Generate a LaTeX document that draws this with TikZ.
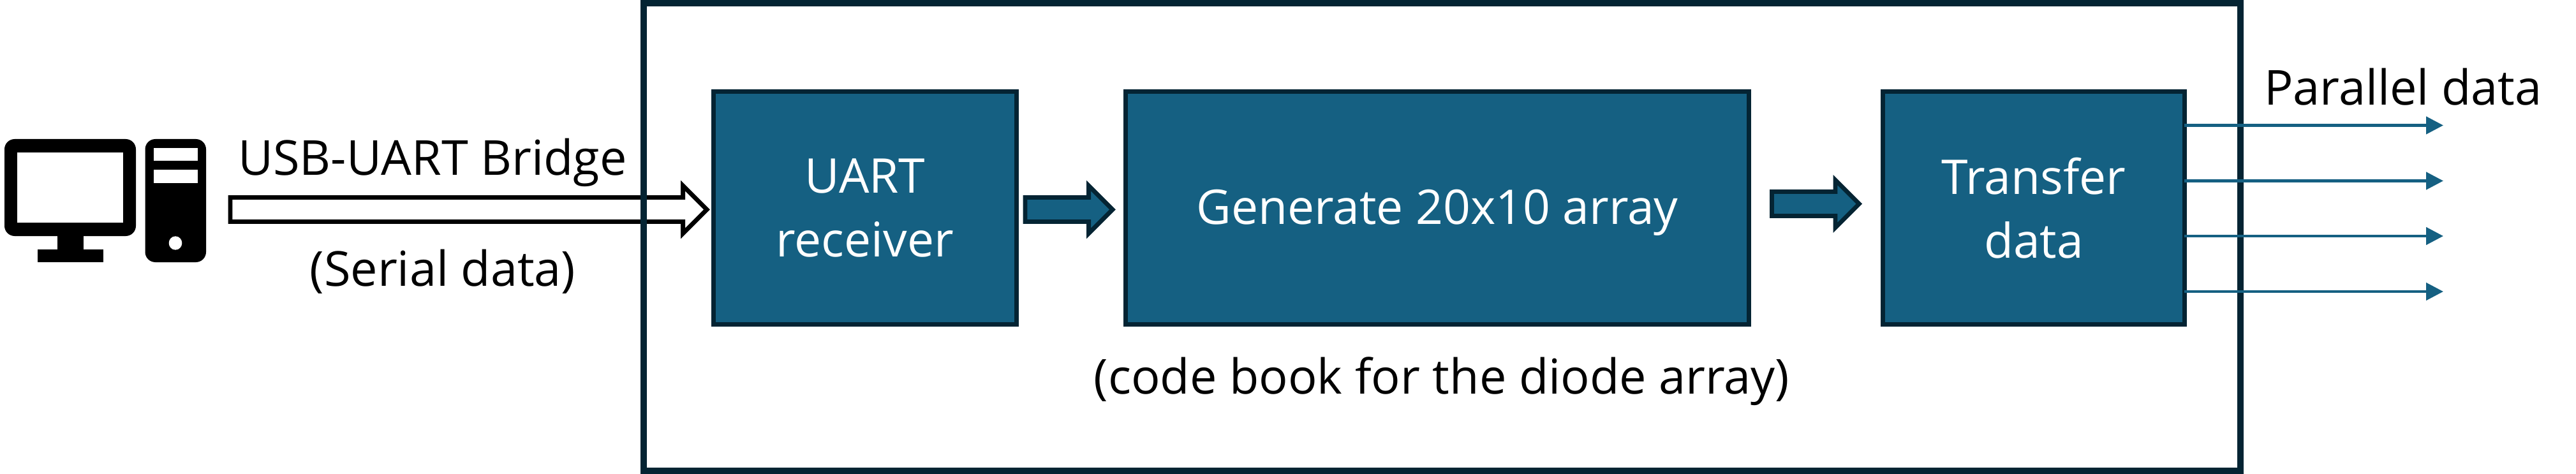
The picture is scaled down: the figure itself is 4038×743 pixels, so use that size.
\documentclass[tikz,border=0pt]{standalone}
\usepackage{fontspec}
\setmainfont{Open Sans}
\usetikzlibrary{calc,arrows.meta}
\definecolor{blockfill}{HTML}{156082}
\definecolor{blockedge}{HTML}{042433}
\tikzset{
  codeblock/.style={draw=blockedge,fill=blockfill,line width=3.5pt,text=white,align=center,
    inner sep=0pt,font=\fontsize{37.5}{50}\selectfont},
  caption/.style={anchor=base,inner sep=0pt,font=\fontsize{37.8}{44}\selectfont},
  % hollow arrow drawn between two points
  blockarrow/.style={line width=3.4pt,miter limit=10,to path={
    let \p1=(\tikztostart),\p2=(\tikztotarget) in
    (\x1,\y1+9.5) -- (\x2-18.7,\y1+9.5) -- (\x2-18.7,\y1+18.7) -- (\x2,\y1)
    -- (\x2-18.7,\y1-18.7) -- (\x2-18.7,\y1-9.5) -- (\x1,\y1-9.5) -- cycle}},
  outline/.style={-{Triangle[length=13.5pt,width=13.5pt]},draw=blockfill,line width=2.4pt}
}
\begin{document}
\begin{tikzpicture}[x=0.5pt,y=-0.5pt]
\useasboundingbox (0,0) rectangle (4038,743);
% The computer:
\fill[rounded corners=8pt] (7,218) rectangle (213,370);
\fill[white] (27,239) rectangle (193,349);
\fill (89.5,360) rectangle (130.5,391);
\fill (58.5,391) rectangle (161.5,411);
\fill[rounded corners=8pt] (227.5,218) rectangle (323,411);
\fill[white] (240.5,232) rectangle (309.5,252.5);
\fill[white] (240.5,266.5) rectangle (309.5,287.5);
\fill[white] (275,381) circle [x radius=10.3,y radius=10.7];
% Some points for the arrows:
\coordinate (serial start) at (361,328.5);
\coordinate (serial end) at (1108,328.5);
\coordinate (first start) at (1607,328.5);
\coordinate (first end) at (1744,328.5);
\coordinate (second start) at (2777.5,319.5);
\coordinate (second end) at (2914.3,319.5);
\draw[blockarrow,draw=black,fill=white] (serial start) to (serial end);
\node[draw=blockedge,line width=5pt,minimum width=1251.5pt,minimum height=366.5pt,inner sep=0pt] (board) at (2260.5,371.5) {};
\node[codeblock,minimum width=237.25pt,minimum height=182.5pt] (uart) at (1355.75,326) {UART\\receiver};
\node[codeblock,minimum width=488.3pt,minimum height=182.5pt,text depth=2pt] (generate) at (2253.2,326) {Generate 20x10 array};
\node[codeblock,minimum width=236.5pt,minimum height=182.5pt] (transfer) at (3188,326) {Transfer\\data};
\draw[blockarrow,draw=blockedge,fill=blockfill] (first start) to (first end);
\draw[blockarrow,draw=blockedge,fill=blockfill] (second start) to (second end);
% The parallel outputs:
\foreach \bit/\y in {1/196.5,2/283.5,3/370,4/457}
{
\coordinate (out \bit) at (3830,\y);
\draw[outline] (3424,\y) -- (out \bit);
}
\node[caption] (bridge label) at (678,275) {USB-UART Bridge};
\node[caption] (serial label) at (694,448) {(Serial data)};
\node[caption] (parallel label) at (3767,165) {Parallel data};
\node[caption] (book label) at (2260,617.5) {(code book for the diode array)};
\end{tikzpicture}
\end{document}
